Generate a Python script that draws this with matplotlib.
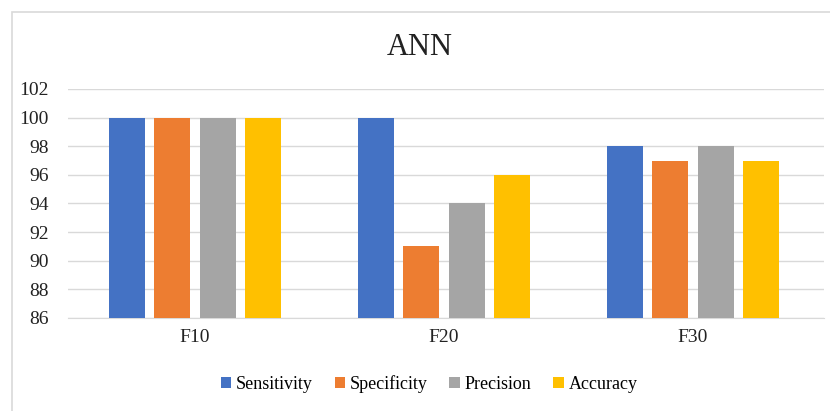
import numpy as np
import matplotlib.pyplot as plt
from matplotlib.patches import Rectangle, Patch

plt.rcParams['font.family'] = ['Liberation Serif', 'DejaVu Serif']

categorie = ['F10', 'F20', 'F30']
serie = ['Sensitivity', 'Specificity', 'Precision', 'Accuracy']
colori = ['#4472C4', '#ED7D31', '#A5A5A5', '#FFC000']
valori = {
    'Sensitivity': [100, 100, 98],
    'Specificity': [100, 91, 97],
    'Precision': [100, 94, 98],
    'Accuracy': [100, 96, 97],
}

fig = plt.figure(figsize=(8.3, 4.11), dpi=100)
# cornice del grafico (il lato destro esce dall'immagine)
fig.patches.append(Rectangle((12 / 830, -0.01), 1.05, 1 - 12 / 411 + 0.01,
                             transform=fig.transFigure, fill=False,
                             edgecolor='#D9D9D9', linewidth=1.2))

ax = fig.add_axes([68 / 830, 0.2263, 756 / 830, 0.5572])

x = np.arange(len(categorie))
larghezza = 0.145
passo = 0.183
for i, nome in enumerate(serie):
    ax.bar(x + (i - 1.5) * passo, valori[nome], width=larghezza,
           color=colori[i], zorder=3)

ax.set_ylim(86, 102)
ax.set_yticks(range(86, 103, 2))
ax.set_xlim(-0.51, 2.526)
ax.set_xticks(x)
ax.set_xticklabels(categorie)
ax.grid(axis='y', color='#D9D9D9', linewidth=1, zorder=0)
for s in ['top', 'right', 'left']:
    ax.spines[s].set_visible(False)
ax.spines['bottom'].set_color('#D9D9D9')
ax.tick_params(axis='both', length=0, labelsize=14, colors='#222222')
ax.tick_params(axis='x', pad=8)
ax.tick_params(axis='y', pad=14)

fig.text(0.506, 0.885, 'ANN', ha='center', va='center', fontsize=22,
         color='#222222')

maniglie = [Patch(facecolor=colori[i], label=serie[i]) for i in range(4)]
fig.legend(handles=maniglie, loc='center', bbox_to_anchor=(0.517, 0.066),
           ncol=4, frameon=False, fontsize=13, handlelength=0.6,
           handleheight=0.6, handletextpad=0.25, columnspacing=1.2)

fig.savefig('out.png', dpi=100)
